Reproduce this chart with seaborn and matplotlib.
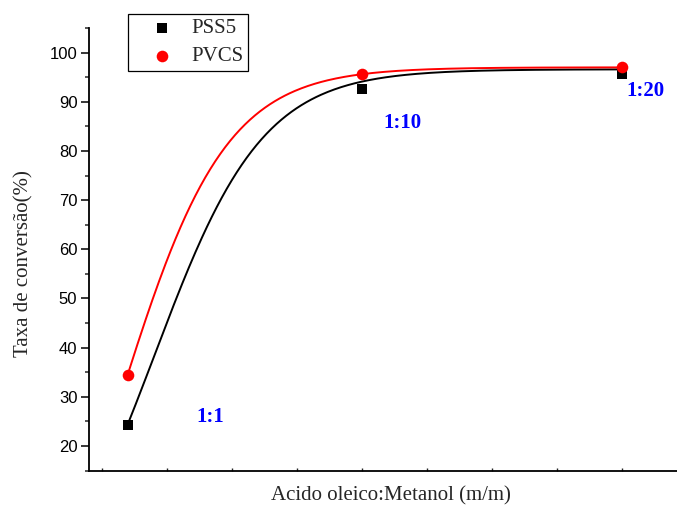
import numpy as np
import pandas as pd
import matplotlib
matplotlib.use("Agg")
import matplotlib.pyplot as plt
import seaborn as sns
from matplotlib.ticker import MultipleLocator, NullFormatter, FixedLocator

# ---------------- data ----------------
ratio = [1, 10, 20]                      # oleic acid : methanol (x position)
ratio_labels = ["1:1", "1:10", "1:20"]
pss5 = [24.3, 92.6, 95.6]                # conversion (%)
pvcs = [34.4, 95.6, 97.0]

# Boltzmann fit parameters (A1, A2, x0, dx) of the fitted curves
fit_pss5 = (-20.0, 96.6, 2.023, 2.088)
fit_pvcs = (-40.0, 97.0, 0.646, 2.045)


def boltzmann(x, a1, a2, x0, dx):
    return a2 + (a1 - a2) / (1.0 + np.exp((x - x0) / dx))


sns.set_style("ticks")
plt.rcParams["font.family"] = ["Liberation Serif", "DejaVu Serif"]

fig = plt.figure(figsize=(6.77, 5.05), dpi=100)
ax = fig.add_axes([88.5 / 677, 1 - 470.5 / 505, 1 - 88.5 / 677, (470.5 - 28) / 505])

xs = np.linspace(min(ratio), max(ratio), 300)
sns.lineplot(x=xs, y=boltzmann(xs, *fit_pss5), color="black", lw=1.4, ax=ax, zorder=2)
sns.lineplot(x=xs, y=boltzmann(xs, *fit_pvcs), color="red", lw=1.4, ax=ax, zorder=2)

sns.scatterplot(x=ratio, y=pss5, marker="s", color="black", s=44, linewidth=0,
                ax=ax, label="PSS5", zorder=3)
sns.scatterplot(x=ratio, y=pvcs, marker="o", color="red", s=70, linewidth=0,
                ax=ax, label="PVCS", zorder=4)

# ratio annotations
label_pos = [(4.18, 25.8), (11.54, 85.6), (20.88, 92.1)]
for lab, (tx, ty) in zip(ratio_labels, label_pos):
    ax.text(tx, ty, lab, color="#0000ff", fontsize=15, fontweight="bold",
            ha="center", va="center", family=["Liberation Serif"])

ax.set_xlim(-0.5, 22.1)
ax.set_ylim(15, 105)

ax.set_yticks(np.arange(20, 101, 10))
ax.yaxis.set_minor_locator(MultipleLocator(5))
ax.tick_params(axis="y", which="major", direction="out", length=6, width=1.1,
               labelsize=12, pad=2, colors="black")
ax.tick_params(axis="y", which="minor", direction="out", length=3, width=1.1)
for t in ax.get_yticklabels():
    t.set_family(["Liberation Sans"])

ax.xaxis.set_major_locator(FixedLocator(np.arange(0, 20.1, 2.5)))
ax.xaxis.set_major_formatter(NullFormatter())
ax.tick_params(axis="x", which="major", direction="in", length=2, width=1.0)

for side in ["top", "right"]:
    ax.spines[side].set_visible(False)
for side in ["left", "bottom"]:
    ax.spines[side].set_linewidth(1.3)
    ax.spines[side].set_color("black")

ax.set_xlabel("Acido oleico:Metanol (m/m)", fontsize=15)
ax.set_ylabel("Taxa de conversão(%)", fontsize=15)
ax.yaxis.set_label_coords(-0.094, 0.468)
ax.xaxis.set_label_coords(0.514, -0.036)
ax.xaxis.label.set_va("top")

leg = ax.legend(loc="upper left", bbox_to_anchor=(128 / 677, 1 - 14 / 505),
                bbox_transform=fig.transFigure, fontsize=15, frameon=True,
                fancybox=False, framealpha=1, edgecolor="black",
                borderpad=0.22, handlelength=2.8, handletextpad=0.0,
                labelspacing=0.42, borderaxespad=0)
leg.get_frame().set_linewidth(0.9)

fig.savefig("out.png", dpi=100)
